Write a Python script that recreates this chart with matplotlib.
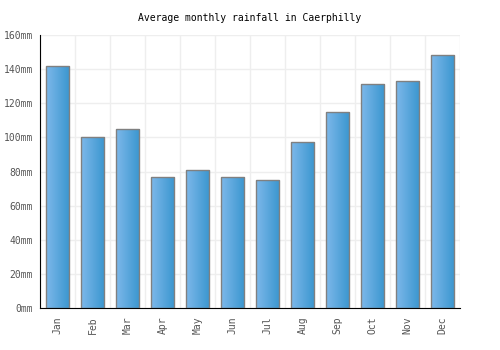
import matplotlib
matplotlib.use("Agg")
import matplotlib.pyplot as plt
import numpy as np
from matplotlib.colors import LinearSegmentedColormap

months = ["Jan", "Feb", "Mar", "Apr", "May", "Jun", "Jul", "Aug", "Sep", "Oct", "Nov", "Dec"]
rainfall = [142, 100, 105, 77, 81, 77, 75, 97.5, 115, 131, 133, 148]
yticks = [0, 20, 40, 60, 80, 100, 120, 140, 160]
ytick_labels = [f"{v}mm" for v in yticks]
title = "Average monthly rainfall in Caerphilly"

plt.rcParams['font.family'] = ['DejaVu Sans Mono']

fig = plt.figure(figsize=(5, 3.5), dpi=100)
ax = fig.add_axes([40/500, 1 - 308/350, 420/500, (308-35)/350])

x = np.arange(len(months))
bars = ax.bar(x, rainfall, width=0.68, color='none', edgecolor='#808080', linewidth=1.0, zorder=3)

cmap = LinearSegmentedColormap.from_list("g", ["#7db8ea", "#3a96cf"])
grad = np.linspace(0, 1, 64).reshape(1, -1)
for b in bars:
    x0, y0 = b.get_x(), b.get_y()
    w, h = b.get_width(), b.get_height()
    im = ax.imshow(grad, cmap=cmap, aspect='auto', extent=[x0, x0 + w, y0, y0 + h], zorder=2)
    im.set_clip_path(b)

ax.set_xlim(-0.5, len(months) - 0.5)
ax.set_ylim(0, 160)
ax.set_yticks(yticks)
ax.set_yticklabels(ytick_labels)
ax.set_xticks(x)
ax.set_xticklabels(months, rotation=90)
ax.set_xticks(np.arange(-0.5, len(months) + 0.5, 1), minor=True)

ax.grid(True, axis='y', color='#eeeeee', linewidth=1, zorder=0)
ax.grid(True, axis='x', which='minor', color='#eeeeee', linewidth=1, zorder=0)
ax.tick_params(axis='x', which='minor', length=0)
ax.tick_params(axis='both', which='major', length=0, labelsize=7, labelcolor='#555555')
ax.tick_params(axis='y', pad=5)
ax.tick_params(axis='x', pad=6)

for s in ['top', 'right']:
    ax.spines[s].set_visible(False)
ax.spines['left'].set_color('black')
ax.spines['bottom'].set_color('black')

fig.text(0.5, 1 - 18/350, title, ha='center', va='center', fontsize=7, color='black')

fig.savefig("out.png", dpi=100)
